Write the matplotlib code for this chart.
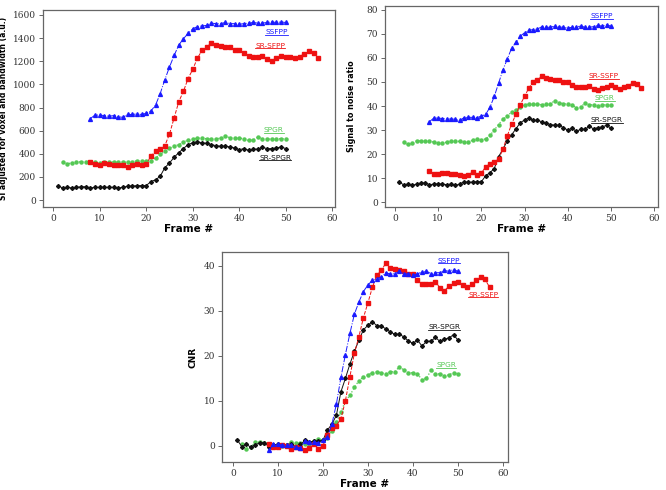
import numpy as np
import matplotlib
matplotlib.use("Agg")
import matplotlib.pyplot as plt
from matplotlib.lines import Line2D

# ---- data ----
fr_ssfp = list(range(8, 51))
fr_srssfp = list(range(8, 58))
fr_spgr = list(range(2, 51))
fr_srspgr = list(range(1, 51))

si_ssfp = [705, 735, 735, 730, 725, 730, 720, 715, 740, 740, 745, 740, 750, 770, 820,
           920, 1040, 1150, 1250, 1340, 1395, 1440, 1480, 1500, 1505, 1510, 1530, 1525,
           1525, 1535, 1525, 1525, 1520, 1525, 1530, 1535, 1530, 1530, 1535, 1540, 1535,
           1540, 1535]
si_srssfp = [330, 310, 305, 320, 310, 300, 305, 300, 290, 305, 310, 300, 310, 380, 420,
             440, 470, 570, 710, 850, 940, 1050, 1130, 1225, 1295, 1320, 1360, 1340, 1330,
             1320, 1320, 1300, 1300, 1270, 1245, 1240, 1240, 1245, 1220, 1205, 1225, 1245,
             1240, 1240, 1225, 1240, 1265, 1285, 1270, 1225]
si_spgr = [325, 315, 320, 330, 330, 330, 330, 325, 320, 325, 325, 330, 330, 330, 325,
           330, 340, 340, 335, 340, 365, 395, 420, 450, 465, 480, 505, 515, 525, 535, 535,
           530, 530, 530, 535, 550, 540, 535, 535, 530, 515, 520, 545, 530, 530, 525, 530,
           530, 530]
si_srspgr = [125, 105, 110, 105, 110, 115, 115, 105, 110, 110, 110, 110, 110, 105, 110,
             120, 120, 125, 125, 125, 160, 175, 205, 280, 320, 370, 410, 445, 480, 495,
             505, 495, 490, 480, 470, 465, 465, 460, 450, 435, 445, 430, 440, 440, 455,
             445, 445, 450, 460, 445]

snr_ssfp = [33.5, 35, 35, 34.8, 34.6, 34.6, 34.5, 34, 35.2, 35.3, 35.3, 35.2, 35.8, 36.5,
            39.5, 44, 49.5, 55, 59.5, 64, 66.5, 69, 70.5, 71.5, 71.8, 72, 73, 72.7, 72.8,
            73.2, 72.8, 72.8, 72.5, 72.7, 73, 73.2, 72.8, 72.8, 73, 73.5, 73.2, 73.8, 73.2]
snr_srssfp = [12.8, 11.8, 11.8, 12.3, 12, 11.6, 11.8, 11.5, 11, 11.5, 12.5, 11.5, 12,
              14.8, 16, 16.8, 18, 22, 27.5, 32.5, 36.5, 40.5, 44, 47.5, 50, 51, 52.5, 51.5,
              51.2, 51, 50.8, 50, 50, 48.8, 48, 48, 48, 48.5, 47, 46.5, 47.5, 48, 48.8,
              47.8, 47.2, 48, 48.5, 49.5, 49, 47.5]
snr_spgr = [25, 24, 24.5, 25.5, 25.5, 25.3, 25.3, 25, 24.5, 24.5, 25, 25.5, 25.3, 25.3, 25,
            25, 25.8, 26.2, 26, 26.3, 27.8, 30, 32.3, 34.5, 35.8, 37.5, 38.5, 39.5, 40.3,
            41, 41, 40.8, 40.5, 41, 41, 42.2, 41.3, 41, 40.8, 40.5, 39.3, 39.5, 41.3, 40.5,
            40.5, 40.2, 40.5, 40.5, 40.5]
snr_srspgr = [8.5, 7.2, 7.5, 7, 7.5, 8, 8, 7.3, 7.5, 7.6, 7.5, 7.3, 7.5, 7, 7.5, 8.5, 8.2,
              8.4, 8.5, 8.5, 11, 12.3, 14, 19, 22, 25.5, 28, 30.5, 33, 34.2, 35, 34, 34,
              33.5, 32.8, 32.3, 32, 32, 31, 30, 30.7, 29.5, 30.3, 30.3, 31.5, 30.5, 31,
              31.3, 32, 30.8]

cnr_ssfp = [-1, 0.3, 0.3, 0.2, 0.1, 0.2, -0.3, -0.5, 1, 0.8, 0.8, 0.7, 1.2, 2, 4.8, 9.3,
            15.2, 20.3, 25, 29.3, 32, 34.3, 35.8, 36.8, 37.2, 37.5, 38.5, 38.2, 38.3, 38.8,
            38.3, 38.2, 38, 38.2, 38.7, 38.8, 38.3, 38.5, 38.5, 39, 38.8, 39.2, 38.8]
cnr_srssfp = [0.3, -0.2, -0.2, 0.2, 0, -0.6, -0.3, -0.5, -1, -0.5, 0.3, -0.6, 0, 2.5, 4,
              4.5, 6, 10, 15.4, 20.6, 24.3, 28.5, 31.8, 35.3, 38, 39, 40.7, 39.6, 39.4, 39,
              38.8, 38.3, 38.3, 36.8, 36, 36, 36, 36.5, 35.1, 34.5, 35.5, 36.3, 36.5, 35.8,
              35.3, 36, 36.8, 37.5, 37, 35.3]
cnr_spgr = [0.3, -0.6, -0.3, 0.8, 0.8, 0.6, 0.5, 0.2, -0.3, -0.1, 0.2, 0.8, 0.6, 0.7, 0.3,
            0.3, 1.1, 1.5, 1.3, 1.8, 3.3, 5.2, 7.5, 10, 11.2, 13, 14.5, 15.3, 15.8, 16.3,
            16.5, 16.2, 16, 16.5, 16.5, 17.6, 16.8, 16.3, 16.2, 16, 14.7, 15, 16.8, 16, 16,
            15.5, 15.8, 16.3, 16]
cnr_srspgr = [1.3, -0.2, 0.3, -0.3, 0.2, 0.7, 0.7, -0.2, 0.2, 0.3, 0.2, 0.2, 0.3, -0.3,
              0.3, 1.2, 0.9, 1, 1.1, 1.2, 3.5, 4.8, 6.8, 12, 15, 18.2, 21, 23.5, 25.8, 26.8,
              27.6, 26.7, 26.6, 26, 25.3, 24.8, 24.8, 24.2, 23.3, 22.8, 23.5, 22.2, 23.2,
              23.3, 24.1, 23.2, 23.7, 24, 24.7, 23.5]

BLUE = "#1a1aff"
RED = "#ee1111"
GREEN = "#55c855"
BLACK = "#111111"

fig = plt.figure(figsize=(6.66, 4.9), dpi=100)
W, H = 666, 490


def make_axes(l, t, r, b):
    return fig.add_axes([l / W, 1 - b / H, (r - l) / W, (b - t) / H])


def style(ax, xlim, ylim, yticks, ylabel, ylab_x, ylab_size=5.8):
    ax.set_xlim(*xlim)
    ax.set_ylim(*ylim)
    ax.set_xticks([0, 10, 20, 30, 40, 50, 60])
    ax.set_yticks(yticks)
    for s in ax.spines.values():
        s.set_color("#666666")
        s.set_linewidth(0.9)
    ax.tick_params(direction="out", length=3, width=0.7, color="#666666",
                   labelsize=6.5, pad=2)
    for lab in ax.get_xticklabels() + ax.get_yticklabels():
        lab.set_family("DejaVu Serif")
        lab.set_color("#333333")
    ax.set_xlabel("Frame #", fontsize=7.5, fontweight="bold", labelpad=1)
    ax.set_ylabel(ylabel, fontsize=ylab_size, fontweight="bold")
    ax.yaxis.set_label_coords(ylab_x, 0.5)


def draw_series(ax, s_ssfp, s_sr, s_spgr, s_srspgr):
    ax.plot(fr_spgr, s_spgr, color=GREEN, ls=":", lw=0.9, marker="o", ms=2.2,
            mec=GREEN, mfc=GREEN)
    ax.plot(fr_srspgr, s_srspgr, color=BLACK, ls="-", lw=0.7, marker="D", ms=2.0)
    ax.plot(fr_srssfp, s_sr, color=RED, ls="--", lw=0.7, marker="s", ms=2.8)
    ax.plot(fr_ssfp, s_ssfp, color=BLUE, ls="-.", lw=0.7, marker="^", ms=2.8)


labels = []


def tag(ax, x, y, s, c):
    t = ax.text(x, y, s, color=c, fontsize=5.3, ha="center", va="center")
    labels.append((t, c))


ax1 = make_axes(43, 10, 335, 207)
draw_series(ax1, si_ssfp, si_srssfp, si_spgr, si_srspgr)
style(ax1, (-2.2, 60.6), (-60, 1643), [0, 200, 400, 600, 800, 1000, 1200, 1400, 1600],
      "SI adjusted for voxel and bandwidth (a.u.)", -0.12, 5.5)
tag(ax1, 48, 1450, "SSFPP", BLUE)
tag(ax1, 46.7, 1335, "SR-SFPP", RED)
tag(ax1, 47.4, 605, "SPGR", GREEN)
tag(ax1, 47.8, 365, "SR-SPGR", BLACK)

ax2 = make_axes(385, 6, 658, 207)
draw_series(ax2, snr_ssfp, snr_srssfp, snr_spgr, snr_srspgr)
style(ax2, (-2.3, 60.9), (-2, 81.6), [0, 10, 20, 30, 40, 50, 60, 70, 80],
      "Signal to noise ratio", -0.105)
tag(ax2, 47.8, 77.3, "SSFPP", BLUE)
tag(ax2, 48.3, 52.3, "SR-SSFP", RED)
tag(ax2, 48.6, 43.3, "SPGR", GREEN)
tag(ax2, 49, 34, "SR-SPGR", BLACK)

ax3 = make_axes(222, 252, 508, 462)
draw_series(ax3, cnr_ssfp, cnr_srssfp, cnr_spgr, cnr_srspgr)
style(ax3, (-2.4, 61.1), (-3.6, 43.1), [0, 10, 20, 30, 40], "CNR", -0.085, 6.5)
tag(ax3, 48, 41.1, "SSFPP", BLUE)
tag(ax3, 55.6, 33.6, "SR-SSFP", RED)
tag(ax3, 47, 26.4, "SR-SPGR", BLACK)
tag(ax3, 47.4, 17.9, "SPGR", GREEN)

# underline the series tags
fig.canvas.draw()
inv = fig.transFigure.inverted()
for t, c in labels:
    bb = t.get_window_extent()
    (x0, y0), (x1, _) = inv.transform([(bb.x0, bb.y0 + 0.5), (bb.x1, bb.y1)])
    fig.add_artist(Line2D([x0, x1], [y0, y0], transform=fig.transFigure,
                          color=c, lw=0.6))

fig.savefig("out.png", dpi=100)
